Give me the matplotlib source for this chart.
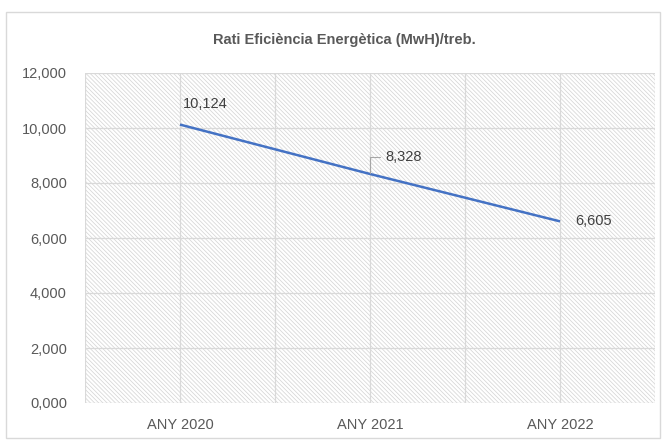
import numpy as np
import matplotlib as mpl
mpl.use("Agg")
import matplotlib.pyplot as plt
from matplotlib.patches import Rectangle
from matplotlib.ticker import FuncFormatter

# dades
categories = ["ANY 2020", "ANY 2021", "ANY 2022"]
valors = [10.124, 8.328, 6.605]
titol = "Rati Eficiència Energètica (MwH)/treb."
yticks = [0, 2, 4, 6, 8, 10, 12]

grey_txt = "#595959"
grid_col = "#d9d9d9"
line_col = "#4472C4"

plt.rcParams["font.family"] = ["Liberation Sans", "DejaVu Sans"]
plt.rcParams["hatch.color"] = "#d6d6d6"
plt.rcParams["hatch.linewidth"] = 0.55

fig = plt.figure(figsize=(6.67, 4.45), dpi=100)
fig.patch.set_facecolor("white")

# outer chart border
fig.patches.append(Rectangle((6/667, 1-438/445), 654/667, 426/445, transform=fig.transFigure,
                             fill=False, edgecolor=grid_col, lw=1.0))

ax = fig.add_axes([85/667, 1-403/445, 570/667, 330/445])
x = np.arange(len(categories))
ax.set_xlim(-0.5, len(categories) - 0.5)
ax.set_ylim(0, 12)

# hatched plot area
ax.add_patch(Rectangle((0, 0), 1, 1, transform=ax.transAxes, facecolor="white",
                       edgecolor="#d6d6d6", hatch="\\" * 8, lw=0, zorder=0))

# gridlines
for yv in yticks:
    ax.axhline(yv, color=grid_col, lw=0.9, zorder=1)
for xv in np.arange(-0.5, len(categories), 0.5):
    ax.axvline(xv, color=grid_col, lw=0.9, zorder=1)

ax.plot(x, valors, color=line_col, lw=1.8, solid_capstyle="butt", zorder=3)

fmt = lambda v: ("%.3f" % v).replace(".", ",")

ax.annotate(fmt(valors[0]), (x[0], valors[0]), xytext=(2, 15), textcoords="offset points",
            ha="left", va="center", fontsize=10.5, color="#404040")
ax.annotate(fmt(valors[1]), (x[1], valors[1]), xytext=(11, 12), textcoords="offset points",
            ha="left", va="center", fontsize=10.5, color="#404040",
            arrowprops=dict(arrowstyle="-", color="#a6a6a6", lw=0.8,
                            connectionstyle="angle,angleA=0,angleB=90,rad=0",
                            shrinkA=2, shrinkB=1))
ax.annotate(fmt(valors[2]), (x[2], valors[2]), xytext=(11, 0), textcoords="offset points",
            ha="left", va="center", fontsize=10.5, color="#404040")

ax.set_xticks(x)
ax.set_xticklabels(categories)
ax.set_yticks(yticks)
ax.yaxis.set_major_formatter(FuncFormatter(lambda v, p: fmt(v)))
ax.tick_params(axis="both", length=0, labelsize=10.5, colors=grey_txt)
ax.tick_params(axis="y", pad=13)
ax.tick_params(axis="x", pad=11)
for s in ax.spines.values():
    s.set_visible(False)

fig.text(0.517, 1-40/445, titol, ha="center", va="center", fontsize=10.5,
         fontweight="bold", color=grey_txt)

fig.savefig("out.png", dpi=100)
